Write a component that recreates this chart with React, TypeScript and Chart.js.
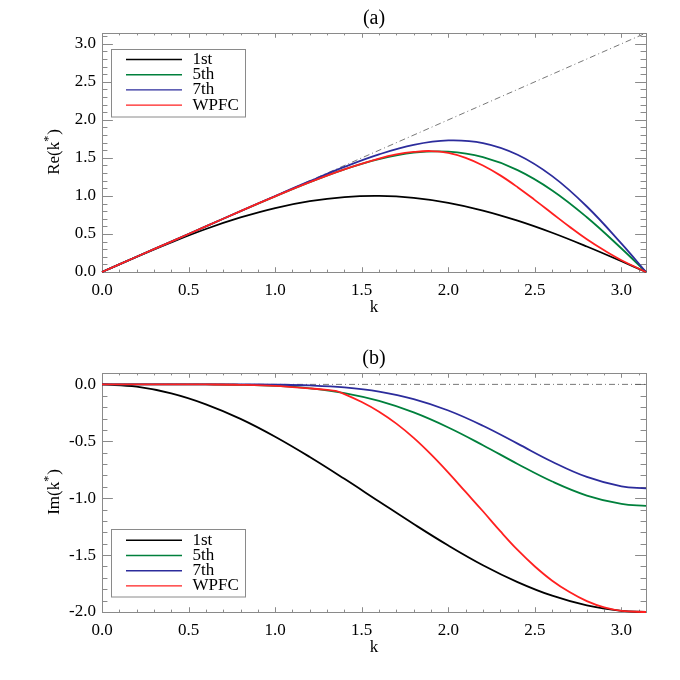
import React, { useEffect, useRef } from "react";
import { Chart, registerables } from "chart.js";
Chart.register(...registerables);

const K = [0, 0.2, 0.4, 0.6, 0.8, 1.0, 1.2, 1.4, 1.6, 1.8, 2.0, 2.2, 2.4, 2.6, 2.8, 3.0, 3.1416];

const RE_1ST = [0, 0.199, 0.389, 0.565, 0.717, 0.841, 0.932, 0.985, 1.0, 0.974, 0.909, 0.808, 0.675, 0.516, 0.335, 0.141, 0];
const RE_5TH = [0, 0.2, 0.4, 0.6, 0.799, 0.994, 1.181, 1.349, 1.484, 1.568, 1.582, 1.509, 1.339, 1.072, 0.72, 0.309, 0];
const RE_7TH = [0, 0.2, 0.4, 0.6, 0.8, 0.999, 1.194, 1.381, 1.546, 1.671, 1.729, 1.694, 1.541, 1.26, 0.861, 0.373, 0];

const IM_1ST = [0, -0.02, -0.079, -0.175, -0.303, -0.46, -0.638, -0.83, -1.029, -1.227, -1.416, -1.589, -1.737, -1.857, -1.942, -1.99, -2.0];
const IM_5TH = [0, 0, -0.0001, -0.0007, -0.0037, -0.0129, -0.0346, -0.0762, -0.1454, -0.2464, -0.3786, -0.5344, -0.6993, -0.8537, -0.9768, -1.0507, -1.0667];
const IM_7TH = [0, 0, 0, -0.0001, -0.0005, -0.0026, -0.0094, -0.0271, -0.0641, -0.1296, -0.2298, -0.3638, -0.5207, -0.6793, -0.813, -0.8961, -0.9143];

const K_WPFC_RE = [0, 0.2, 0.4, 0.6, 0.8, 1.0, 1.2, 1.4, 1.6, 1.7, 1.8, 1.9, 2.0, 2.1, 2.2, 2.3, 2.4, 2.5, 2.6, 2.7, 2.8, 2.9, 3.0, 3.1416];
const RE_WPFC = [0, 0.2, 0.4, 0.6, 0.8, 0.994, 1.181, 1.35, 1.49, 1.545, 1.578, 1.59, 1.565, 1.5, 1.4, 1.27, 1.115, 0.945, 0.77, 0.595, 0.43, 0.285, 0.155, 0];

const K_WPFC_IM = [0, 0.2, 0.4, 0.6, 0.8, 1.0, 1.2, 1.3, 1.35, 1.4, 1.5, 1.6, 1.7, 1.8, 1.9, 2.0, 2.1, 2.2, 2.3, 2.4, 2.5, 2.6, 2.7, 2.8, 2.9, 3.0, 3.1416];
const IM_WPFC = [0, 0, -0.0001, -0.0007, -0.0037, -0.013, -0.035, -0.048, -0.058, -0.085, -0.155, -0.24, -0.345, -0.47, -0.615, -0.775, -0.945, -1.115, -1.29, -1.455, -1.6, -1.725, -1.825, -1.905, -1.96, -1.99, -2.0];

const K_REF = [0, 3.1416];
const RE_REF = [0, 3.1416];
const IM_REF = [0, 0];

const LABELS = ["1st", "5th", "7th", "WPFC"];
const COLORS = ["#000000", "#00803c", "#2c2c9c", "#ff2020"];

const X_TICKS_STEP = 0.5;
const FONT = "Liberation Serif";

const pts = (xs: number[], ys: number[]) => xs.map((x, i) => ({ x, y: ys[i] }));

const framePlugin = {
  id: "frame",
  beforeDatasetsDraw(chart: any) {
    const { ctx, chartArea: a, scales } = chart;
    const xs = scales.x;
    const ys = scales.y;
    const w = a.right - a.left;
    const h = a.bottom - a.top;
    ctx.save();
    ctx.strokeStyle = "#8a8a8a";
    ctx.lineWidth = 1;
    ctx.strokeRect(Math.round(a.left) + 0.5, Math.round(a.top) + 0.5, Math.round(w), Math.round(h));
    ctx.beginPath();
    const xMaj = 0.02 * h;
    for (let i = 0; ; i++) {
      const v = i * 0.1;
      if (v > xs.max + 1e-9) break;
      const len = i % 5 === 0 ? xMaj : xMaj / 2;
      const px = Math.round(xs.getPixelForValue(v)) + 0.5;
      ctx.moveTo(px, a.bottom);
      ctx.lineTo(px, a.bottom - len);
      ctx.moveTo(px, a.top);
      ctx.lineTo(px, a.top + len);
    }
    const yMaj = 0.02 * w;
    const i0 = Math.ceil(ys.min / 0.1 - 1e-9);
    const i1 = Math.floor(ys.max / 0.1 + 1e-9);
    for (let i = i0; i <= i1; i++) {
      const v = i * 0.1;
      const len = Math.abs(i) % 5 === 0 ? yMaj : yMaj / 2;
      const py = Math.round(ys.getPixelForValue(v)) + 0.5;
      ctx.moveTo(a.left, py);
      ctx.lineTo(a.left + len, py);
      ctx.moveTo(a.right, py);
      ctx.lineTo(a.right - len, py);
    }
    ctx.stroke();
    ctx.restore();
  },
  afterDraw(chart: any) {
    const { ctx, chartArea: a } = chart;
    const o = chart.options.plugins.frame;
    ctx.save();
    ctx.fillStyle = "#000";
    ctx.font = `20px "${FONT}"`;
    ctx.textAlign = "center";
    ctx.textBaseline = "middle";
    ctx.fillText(o.title, (a.left + a.right) / 2, 19);
    const cy = (a.top + a.bottom) / 2;
    ctx.translate(55, cy);
    ctx.rotate(-Math.PI / 2);
    ctx.textAlign = "left";
    ctx.font = `17px "${FONT}"`;
    const s1 = o.ytitle;
    const w1 = ctx.measureText(s1).width;
    ctx.font = `12px "${FONT}"`;
    const w2 = ctx.measureText("*").width;
    ctx.font = `17px "${FONT}"`;
    const w3 = ctx.measureText(")").width;
    const start = -(w1 + w2 + w3) / 2;
    ctx.fillText(s1, start, 0);
    ctx.font = `12px "${FONT}"`;
    ctx.fillText("*", start + w1, -6);
    ctx.font = `17px "${FONT}"`;
    ctx.fillText(")", start + w1 + w2 + 1, 0);
    ctx.restore();

    ctx.save();
    const lx = 111, ly = o.legendTop, lw = 134, lh = 67.5;
    ctx.fillStyle = "#fff";
    ctx.fillRect(lx, ly, lw, lh);
    ctx.strokeStyle = "#8a8a8a";
    ctx.lineWidth = 1;
    ctx.strokeRect(lx + 0.5, Math.round(ly) + 0.5, lw, lh);
    ctx.font = `17px "${FONT}"`;
    ctx.textAlign = "left";
    ctx.textBaseline = "middle";
    LABELS.forEach((lab, i) => {
      const y = ly + 11 + i * 15.2;
      ctx.strokeStyle = COLORS[i];
      ctx.lineWidth = 1.4;
      ctx.beginPath();
      ctx.moveTo(126, y);
      ctx.lineTo(182, y);
      ctx.stroke();
      ctx.fillStyle = "#000";
      ctx.fillText(lab, 192.5, y);
    });
    ctx.restore();
  },
};

function makeConfig(panel: "a" | "b") {
  const isA = panel === "a";
  const series = isA
    ? [pts(K, RE_1ST), pts(K, RE_5TH), pts(K, RE_7TH), pts(K_WPFC_RE, RE_WPFC)]
    : [pts(K, IM_1ST), pts(K, IM_5TH), pts(K, IM_7TH), pts(K_WPFC_IM, IM_WPFC)];
  const datasets: any[] = series.map((d, i) => ({
    label: LABELS[i],
    data: d,
    borderColor: COLORS[i],
    borderWidth: 1.8,
    pointRadius: 0,
    tension: 0.4,
    fill: false,
    clip: false,
    order: 3 - i,
  }));
  datasets.push({
    label: "ref",
    data: isA ? pts(K_REF, RE_REF) : pts(K_REF, IM_REF),
    borderColor: "#555555",
    borderWidth: 0.8,
    borderDash: [6, 3, 1, 3],
    pointRadius: 0,
    tension: 0,
    fill: false,
    order: 10,
  });
  const font = { family: FONT, size: 17 };
  return {
    type: "line",
    data: { datasets },
    options: {
      responsive: false,
      maintainAspectRatio: false,
      animation: false,
      layout: { padding: { left: 0, right: 34, top: 33, bottom: 0 } },
      plugins: {
        legend: { display: false },
        tooltip: { enabled: false },
        frame: { title: isA ? "(a)" : "(b)", ytitle: isA ? "Re(k" : "Im(k", legendTop: isA ? 48.5 : 189.3 },
      },
      scales: {
        x: {
          type: "linear",
          min: 0,
          max: 3.1416,
          grid: { display: false, drawTicks: false },
          border: { display: false },
          ticks: {
            stepSize: X_TICKS_STEP,
            includeBounds: false,
            padding: 8,
            color: "#000",
            font,
            maxRotation: 0,
            autoSkip: false,
            callback: (v: any) => Number(v).toFixed(1),
          },
          title: { display: true, text: "k", color: "#000", font, padding: { top: 0, bottom: 22 } },
          afterFit: (s: any) => {
            s.height = 68;
          },
        },
        y: {
          type: "linear",
          min: isA ? 0 : -2.0,
          max: isA ? 3.1416 : 0.1,
          grid: { display: false, drawTicks: false },
          border: { display: false },
          ticks: {
            stepSize: 0.5,
            includeBounds: false,
            padding: 6,
            color: "#000",
            font,
            autoSkip: false,
            callback: (v: any) => Number(v).toFixed(1),
          },
          afterFit: (s: any) => {
            s.width = 102;
          },
        },
      },
    },
    plugins: [framePlugin],
  };
}

function Panel({ panel }: { panel: "a" | "b" }) {
  const ref = useRef<HTMLCanvasElement>(null);
  useEffect(() => {
    if (!ref.current) return;
    const chart = new Chart(ref.current, makeConfig(panel) as any);
    return () => chart.destroy();
  }, [panel]);
  return <canvas ref={ref} width={680} height={340} style={{ display: "block", width: 680, height: 340 }} />;
}

export default function App() {
  return (
    <div style={{ position: "absolute", left: 0, top: 0, width: 680, height: 680, background: "#fff" }}>
      <Panel panel="a" />
      <Panel panel="b" />
    </div>
  );
}
